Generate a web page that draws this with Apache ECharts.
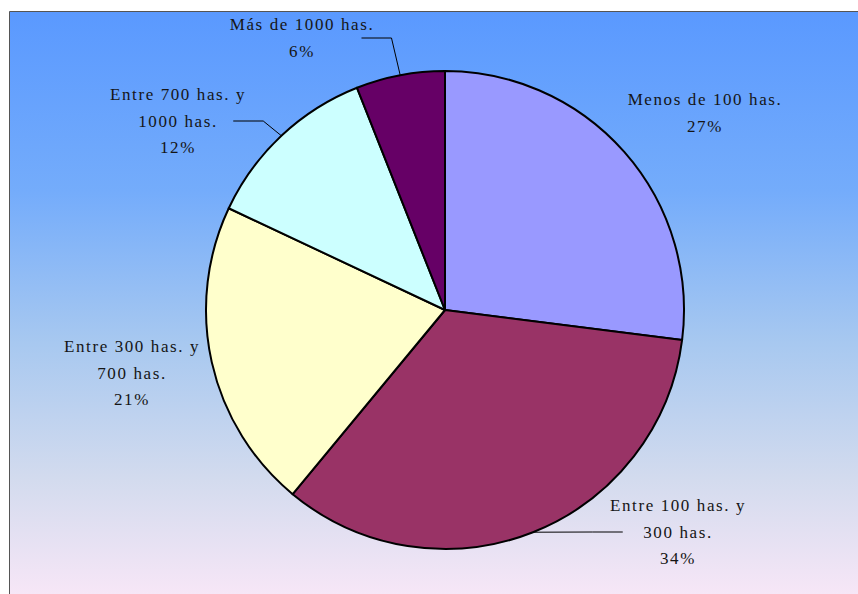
<!DOCTYPE html>
<html>
<head>
<meta charset="utf-8">
<script src="https://cdn.jsdelivr.net/npm/echarts@6/dist/echarts.min.js"></script>
<style>
  html, body { margin: 0; padding: 0; background: #ffffff; }
  #chart { width: 858px; height: 594px; }
  /* wide tracking on the slice labels */
  #chart text { letter-spacing: 1.6px; }
</style>
</head>
<body>
<div id="chart"></div>
<script>
// Distribución de explotaciones por superficie
const categories = [
  'Menos de 100 has.',
  'Entre 100 has. y\n300 has.',
  'Entre 300 has. y\n700 has.',
  'Entre 700 has. y\n1000 has.',
  'Más de 1000 has.'
];
const shares = [27, 34, 21, 12, 6];
const sliceColors = ['#9999ff', '#993366', '#ffffcc', '#ccffff', '#660066'];
// slices whose label sits away from the pie with a leader line
const withLeader = [false, true, false, true, true];

// Label block centres for each slice (x, y in px)
const labelCenters = [
  [705, 113],
  [678, 532],
  [132, 373],
  [178, 121],
  [302, 38]
];

const chart = echarts.init(document.getElementById('chart'), null, { renderer: 'svg' });

const data = categories.map((name, i) => ({
  name: name,
  value: shares[i],
  itemStyle: { color: sliceColors[i] },
  labelLine: { show: withLeader[i] }
}));

chart.setOption({
  animation: false,
  graphic: [{
    type: 'rect',
    z: -10,
    shape: { x: 9.5, y: 11.5, width: 860, height: 600 },
    style: {
      fill: new echarts.graphic.LinearGradient(0, 0, 0, 1, [
        { offset: 0, color: '#5a99ff' },
        { offset: 0.3, color: '#74acfb' },
        { offset: 0.55, color: '#a7c8f0' },
        { offset: 0.78, color: '#d3dbee' },
        { offset: 1, color: '#fce8f8' }
      ]),
      stroke: '#555555',
      lineWidth: 1
    }
  }],
  series: [{
    type: 'pie',
    center: [445, 310],
    radius: 239,
    startAngle: 90,
    clockwise: true,
    data: data,
    itemStyle: { borderColor: '#000000', borderWidth: 2 },
    emphasis: { disabled: true },
    label: {
      show: true,
      position: 'outside',
      formatter: p => p.name + '\n' + p.value + '%',
      fontFamily: 'Liberation Serif',
      fontSize: 17,
      lineHeight: 26.5,
      color: '#151515',
      align: 'center'
    },
    labelLine: {
      show: true,
      lineStyle: { color: '#000000', width: 1 }
    },
    labelLayout: function (params) {
      const c = labelCenters[params.dataIndex];
      return {
        x: c[0],
        y: c[1],
        align: 'center',
        verticalAlign: 'middle'
      };
    }
  }]
});
</script>
</body>
</html>
